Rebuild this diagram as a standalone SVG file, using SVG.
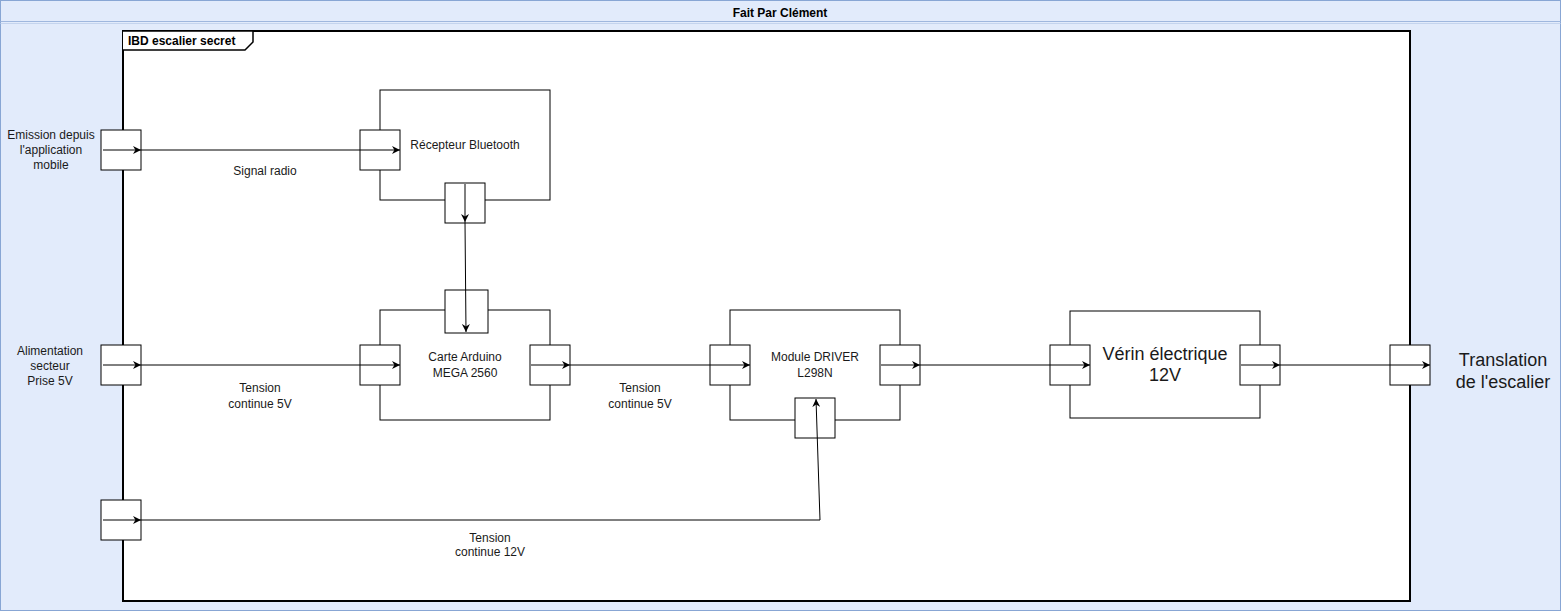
<svg xmlns="http://www.w3.org/2000/svg" width="1561" height="611" viewBox="0 0 1561 611">
  <style>
    .lbl { font-family: "Liberation Sans", Arial, sans-serif; font-size: 12px; fill: #1a1a1a; text-anchor: middle; }
    .big { font-family: "Liberation Sans", Arial, sans-serif; font-size: 18px; fill: #1a1a1a; text-anchor: middle; }
    .bold { font-family: "Liberation Sans", Arial, sans-serif; font-size: 12px; font-weight: bold; fill: #000; }
    .block { fill: #fff; stroke: #000; stroke-width: 1; }
    .port { fill: #fff; stroke: #000; stroke-width: 1; }
    .wire { fill: none; stroke: #000; stroke-width: 1; marker-end: url(#arrow); }
  </style>
  <defs>
    <marker id="arrow" viewBox="0 0 10 10" refX="10" refY="5" markerWidth="8" markerHeight="8" markerUnits="userSpaceOnUse" orient="auto">
      <path d="M0,0 L10,5 L0,10 L3,5 Z" fill="#000"/>
    </marker>
  </defs>

  <!-- outer pool with title band -->
  <g id="pool">
    <rect x="0.5" y="0.5" width="1560" height="610" fill="#e2ebfb" stroke="#88a6d4"/>
    <line x1="0.5" y1="21.5" x2="1560.5" y2="21.5" stroke="#9fb7de"/>
    <line x1="0.5" y1="23.5" x2="1560.5" y2="23.5" stroke="#c4d4ee"/>
    <text class="bold" x="780" y="17" text-anchor="middle">Fait Par Clément</text>
  </g>

  <!-- IBD frame -->
  <g id="ibd-frame">
    <rect x="123" y="31" width="1287" height="570" fill="#fff" stroke="#000" stroke-width="2"/>
    <path d="M123,31 L253,31 L253,42 L245,50 L123,50" fill="#fff" stroke="#000" stroke-width="1.5"/>
    <text class="bold" x="128" y="45">IBD escalier secret</text>
  </g>

  <!-- external labels -->
  <g id="ext-emission">
    <text class="lbl" x="51" y="139">Emission depuis</text>
    <text class="lbl" x="51" y="154">l'application</text>
    <text class="lbl" x="51" y="169">mobile</text>
    <rect class="port" x="101" y="130" width="40" height="40"/>
  </g>
  <g id="ext-alimentation">
    <text class="lbl" x="50" y="355">Alimentation</text>
    <text class="lbl" x="50" y="370">secteur</text>
    <text class="lbl" x="50" y="385">Prise 5V</text>
    <rect class="port" x="101" y="345" width="40" height="40"/>
  </g>
  <g id="ext-12v">
    <rect class="port" x="101" y="500" width="40" height="40"/>
  </g>
  <g id="ext-translation">
    <rect class="port" x="1390" y="345" width="40" height="40"/>
    <text class="big" x="1503" y="366">Translation</text>
    <text class="big" x="1503" y="388">de l'escalier</text>
  </g>

  <!-- blocks -->
  <g id="bluetooth">
    <rect class="block" x="380" y="90" width="170" height="110"/>
    <rect class="port" x="360" y="130" width="40" height="40"/>
    <rect class="port" x="445" y="183" width="40" height="40"/>
    <text class="lbl" x="465" y="149">Récepteur Bluetooth</text>
  </g>
  <g id="arduino">
    <rect class="block" x="380" y="310" width="170" height="110"/>
    <rect class="port" x="445" y="290" width="43" height="43"/>
    <rect class="port" x="360" y="345" width="40" height="40"/>
    <rect class="port" x="530" y="345" width="40" height="40"/>
    <text class="lbl" x="465" y="361">Carte Arduino</text>
    <text class="lbl" x="465" y="377">MEGA 2560</text>
  </g>
  <g id="driver">
    <rect class="block" x="730" y="310" width="170" height="110"/>
    <rect class="port" x="710" y="345" width="40" height="40"/>
    <rect class="port" x="880" y="345" width="40" height="40"/>
    <rect class="port" x="795" y="398" width="40" height="40"/>
    <text class="lbl" x="815" y="361">Module DRIVER</text>
    <text class="lbl" x="815" y="377">L298N</text>
  </g>
  <g id="verin">
    <rect class="block" x="1070" y="311" width="190" height="107"/>
    <rect class="port" x="1050" y="345" width="40" height="40"/>
    <rect class="port" x="1240" y="345" width="40" height="40"/>
    <text class="big" x="1165" y="360">Vérin électrique</text>
    <text class="big" x="1165" y="381">12V</text>
  </g>

  <!-- connectors -->
  <g id="connectors">
    <path class="wire" d="M103,150 L141,150"/>
    <path class="wire" d="M141,150 L400,150"/>
    <path class="wire" d="M465,184 L465,222"/>
    <path class="wire" d="M465,222 L466,332"/>
    <path class="wire" d="M103,365 L141,365"/>
    <path class="wire" d="M141,365 L400,365"/>
    <path class="wire" d="M531,365 L570,365"/>
    <path class="wire" d="M570,365 L750,365"/>
    <path class="wire" d="M881,365 L920,365"/>
    <path class="wire" d="M920,365 L1090,365"/>
    <path class="wire" d="M1241,365 L1280,365"/>
    <path class="wire" d="M1280,365 L1430,365"/>
    <path class="wire" d="M103,520 L141,520"/>
    <path class="wire" d="M141,520 L820,520 L816,399"/>
  </g>

  <!-- connector labels -->
  <g id="connector-labels">
    <text class="lbl" x="265" y="175">Signal radio</text>
    <text class="lbl" x="260" y="392">Tension</text>
    <text class="lbl" x="260" y="408">continue 5V</text>
    <text class="lbl" x="640" y="392">Tension</text>
    <text class="lbl" x="640" y="408">continue 5V</text>
    <text class="lbl" x="490" y="542">Tension</text>
    <text class="lbl" x="490" y="556">continue 12V</text>
  </g>
</svg>
